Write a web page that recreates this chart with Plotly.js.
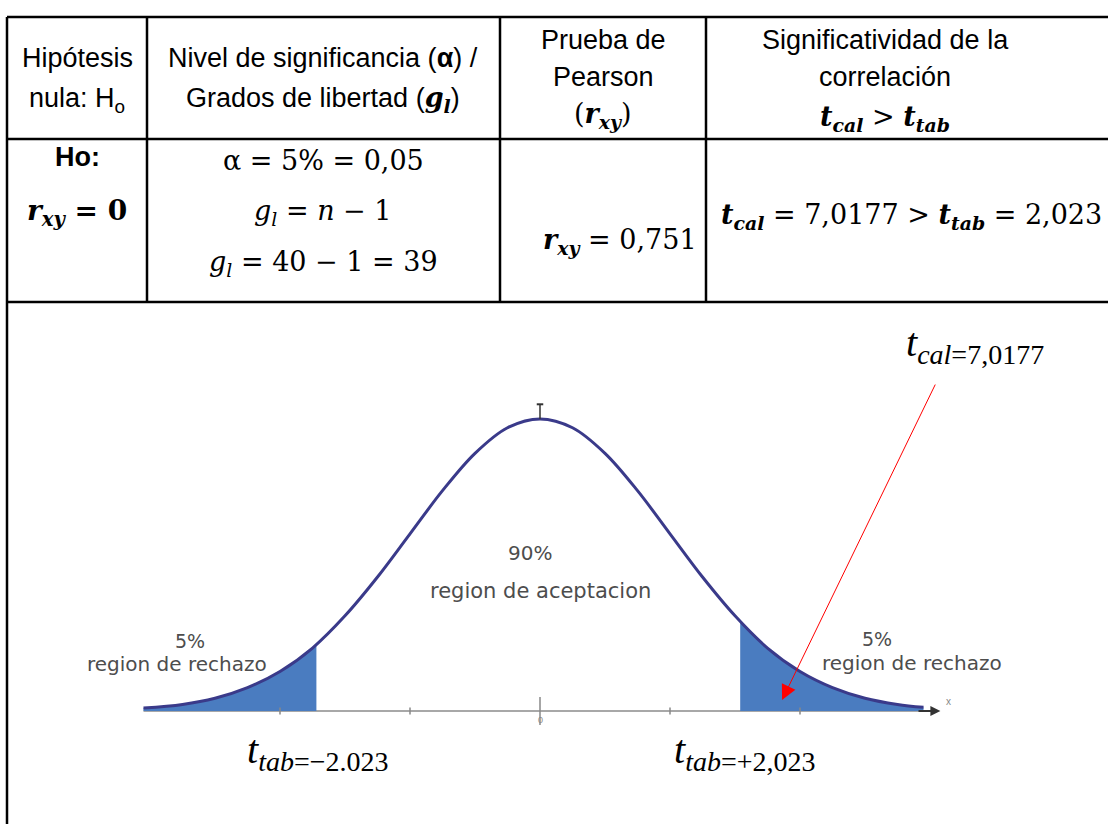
<!DOCTYPE html>
<html>
<head>
<meta charset="utf-8">
<script src="https://cdn.plot.ly/plotly-3.0.1.min.js"></script>
<style>html,body{margin:0;padding:0;background:#fff;}#chart{width:1108px;height:824px;}</style>
</head>
<body>
<div id="chart"></div>
<script>
// ---- data ----
const curveX = [-3.05, -2.75, -2.5, -2.25, -2.0, -1.75, -1.5, -1.25, -1.0, -0.75, -0.5, -0.25, 0, 0.25, 0.5, 0.75, 1.0, 1.25, 1.5, 1.75, 2.0, 2.25, 2.5, 2.75, 2.95];
const curveY = [0.004, 0.009, 0.0175, 0.032, 0.054, 0.086, 0.13, 0.183, 0.242, 0.301, 0.352, 0.387, 0.399, 0.387, 0.352, 0.301, 0.242, 0.183, 0.13, 0.086, 0.054, 0.032, 0.0175, 0.009, 0.005];
const leftTailX = [-3.05, -2.75, -2.5, -2.25, -2.0, -1.75, -1.72];
const leftTailY = [0.004, 0.009, 0.0175, 0.032, 0.054, 0.086, 0.091];
const rightTailX = [1.54, 1.75, 2.0, 2.25, 2.5, 2.75, 2.95];
const rightTailY = [0.122, 0.086, 0.054, 0.032, 0.0175, 0.009, 0.005];
const axisTicks = [-2, -1, 1, 2];
const tTabLow = "−2.023";
const tTabHigh = "+2,023";
const tCal = "7,0177";
const tTabTable = "2,023";
const rxy = "0,751";
const alphaText = "α = 5% = 0,05";
const nSample = "40";
const dof = "39";
const tailPct = "5%";
const centerPct = "90%";

// ---- layout helpers (pixel -> paper) ----
const W = 1108, H = 824;
const X = p => p / W;
const Y = p => 1 - p / H;
const SANS = "Liberation Sans, Arial, sans-serif";
const SERIF = "Liberation Serif, Times New Roman, serif";
const MATH = "DejaVu Serif, serif";
const FIG = "DejaVu Sans, sans-serif";

function line(x0, y0, x1, y1) {
  return {type: 'line', xref: 'paper', yref: 'paper', x0: X(x0), y0: Y(y0), x1: X(x1), y1: Y(y1),
          line: {color: '#000', width: 2.5}};
}
function txt(text, px, py, size, family, opts) {
  return Object.assign({text: text, xref: 'paper', yref: 'paper', x: X(px), y: Y(py),
    xanchor: 'center', yanchor: 'middle', showarrow: false,
    font: {family: family, size: size, color: '#000'}}, opts || {});
}
function figTxt(text, px, py, size) {
  return txt(text, px, py, size, FIG, {font: {family: FIG, size: size, color: '#4d4d4d'}});
}
const bi = s => '<b><i>' + s + '</i></b>';
const sub = s => '<sub>' + s + '</sub>';
const mathSpan = s => '<span style="font-family:DejaVu Serif">' + s + '</span>';

const shapes = [
  line(7, 17, 7, 824),
  line(7, 17, 1108, 17),
  line(7, 139, 1108, 139),
  line(7, 302, 1108, 302),
  line(147, 17, 147, 302),
  line(500, 17, 500, 302),
  line(706, 17, 706, 302),
  // axis line of the bell curve
  {type: 'line', xref: 'x', yref: 'y', x0: -3.05, x1: 3.0, y0: 0, y1: 0, layer: 'below',
   line: {color: '#a8a8a8', width: 2}},
  // peak marker
  {type: 'line', xref: 'x', yref: 'y', x0: 0, x1: 0, y0: 0.399, y1: 0.418, line: {color: '#333', width: 1.5}},
  {type: 'line', xref: 'x', yref: 'y', x0: -0.025, x1: 0.025, y0: 0.419, y1: 0.419, line: {color: '#333', width: 2}}
];

const ann = [
  // header row
  txt('Hipótesis', 77, 58, 27, SANS),
  txt('nula: H<sub>o</sub>', 77, 100, 27, SANS),
  txt('Nivel de significancia (<b>α</b>) /', 323, 58, 27, SANS),
  txt('Grados de libertad (' + mathSpan(bi('g') + sub(bi('l'))) + ')', 323, 100, 27, SANS),
  txt('Prueba de', 603, 40, 27, SANS),
  txt('Pearson', 603, 77, 27, SANS),
  txt('(' + bi('r') + sub(bi('xy')) + ')', 603, 115, 27, MATH),
  txt('Significatividad de la', 885, 40, 27, SANS),
  txt('correlación', 885, 77, 27, SANS),
  txt(bi('t') + sub(bi('cal')) + ' &gt; ' + bi('t') + sub(bi('tab')), 885, 118, 27, MATH),
  // data row
  txt('<b>Ho:</b>', 77, 157, 27, SANS),
  txt(bi('r') + sub(bi('xy')) + '<b> = 0</b>', 77, 212, 28, MATH),
  txt(alphaText, 323, 160, 27, MATH),
  txt('<i>g</i>' + sub('<i>l</i>') + ' = <i>n</i> − 1', 323, 212, 27, MATH),
  txt('<i>g</i>' + sub('<i>l</i>') + ' = ' + nSample + ' − 1 = ' + dof, 323, 263, 27, MATH),
  txt(bi('r') + sub(bi('xy')) + ' = ' + rxy, 620, 241, 27, MATH),
  txt(bi('t') + sub(bi('cal')) + ' = ' + tCal + ' &gt; ' + bi('t') + sub(bi('tab')) + ' = ' + tTabTable, 719, 216, 27, MATH, {xanchor: 'left'}),
  // figure labels
  figTxt(tailPct, 190, 641, 19),
  figTxt('region de rechazo', 177, 664, 20),
  figTxt(tailPct, 877, 639, 19),
  figTxt('region de rechazo', 912, 663, 20),
  figTxt(centerPct, 530, 553, 20),
  figTxt('region de aceptacion', 540, 591, 21),
  txt('<i>t</i>' + sub('<i>tab</i>=' + tTabLow), 318, 752, 40, SERIF),
  txt('<i>t</i>' + sub('<i>tab</i>=' + tTabHigh), 745, 752, 40, SERIF),
  txt('<i>t</i>' + sub('<i>cal</i>=' + tCal), 975, 345, 40, SERIF),
  // red arrow from t_cal label to the rejection region
  {x: 1.862, y: 0.015, xref: 'x', yref: 'y', ax: 3.046, ay: 0.448, axref: 'x', ayref: 'y',
   text: '', showarrow: true, arrowhead: 2, arrowsize: 3, arrowwidth: 1, arrowcolor: '#ff0000'},
  // axis arrow head
  {x: 3.08, y: 0, xref: 'x', yref: 'y', ax: 2.9, ay: 0, axref: 'x', ayref: 'y',
   text: '', showarrow: true, arrowhead: 2, arrowsize: 1, arrowwidth: 2, arrowcolor: '#333'},
  {x: 3.14, y: 0.013, xref: 'x', yref: 'y', text: 'x', showarrow: false, font: {family: SANS, size: 10, color: '#888'}},
  {x: 0, y: -0.012, xref: 'x', yref: 'y', text: '0', showarrow: false, font: {family: SANS, size: 9, color: '#888'}}
];

const traces = [
  {x: leftTailX, y: leftTailY, type: 'scatter', mode: 'lines', fill: 'tozeroy', fillcolor: '#4a7cc0',
   line: {width: 0, shape: 'spline'}, hoverinfo: 'skip'},
  {x: rightTailX, y: rightTailY, type: 'scatter', mode: 'lines', fill: 'tozeroy', fillcolor: '#4a7cc0',
   line: {width: 0, shape: 'spline'}, hoverinfo: 'skip'},
  {x: curveX, y: curveY, type: 'scatter', mode: 'lines', line: {color: '#3a3a8a', width: 3, shape: 'spline'}, hoverinfo: 'skip'},
  {x: axisTicks, y: axisTicks.map(() => 0), type: 'scatter', mode: 'markers',
   marker: {symbol: 'line-ns-open', size: 5, color: '#888', line: {width: 1.5, color: '#888'}}, hoverinfo: 'skip'},
  {x: [0], y: [0], type: 'scatter', mode: 'markers',
   marker: {symbol: 'line-ns-open', size: 20, color: '#888', line: {width: 1.5, color: '#888'}}, hoverinfo: 'skip'}
];

const layout = {
  width: W, height: H,
  margin: {l: 0, r: 0, t: 0, b: 0},
  paper_bgcolor: '#fff', plot_bgcolor: '#fff',
  showlegend: false,
  xaxis: {range: [-540 / 130, (1108 - 540) / 130], visible: false, fixedrange: true},
  yaxis: {range: [(711 - 824) / 732, 711 / 732], visible: false, fixedrange: true},
  shapes: shapes,
  annotations: ann
};

Plotly.newPlot('chart', traces, layout, {displayModeBar: false, staticPlot: true});
</script>
</body>
</html>
